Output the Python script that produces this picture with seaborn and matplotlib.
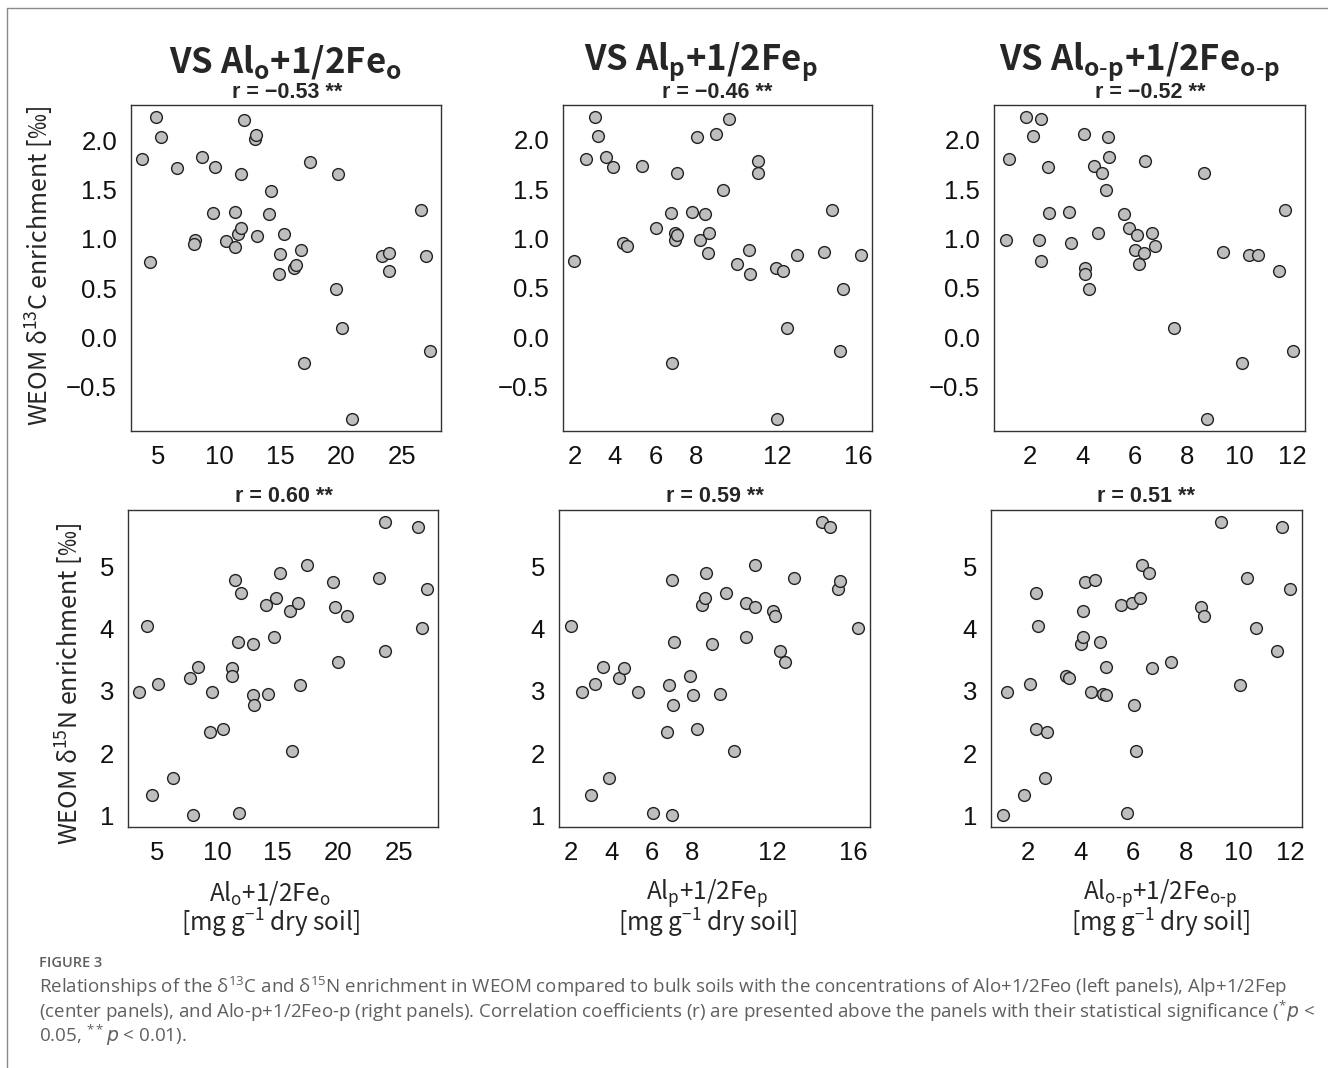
import matplotlib
matplotlib.use('Agg')
import matplotlib.pyplot as plt
from matplotlib.lines import Line2D
import seaborn as sns

# ---- data (40 soils per panel) ----
# top row: WEOM d13C enrichment
alo_top = [3.69, 4.78, 5.19, 4.29, 6.50, 8.55, 9.64, 8.00, 7.90, 9.45, 10.52, 11.26, 11.28, 11.53,
           11.78, 11.78, 11.99, 12.95, 13.03, 13.09, 14.07, 14.21, 14.92, 14.84, 15.27, 16.07, 16.23,
           16.64, 16.89, 17.43, 19.67, 19.51, 20.05, 20.85, 23.33, 23.85, 23.85, 26.50, 26.94, 27.21]
d13c_alo = [1.81, 2.24, 2.04, 0.77, 1.72, 1.83, 1.73, 0.99, 0.95, 1.26, 0.98, 1.27, 0.92, 1.05,
            1.11, 1.66, 2.21, 2.02, 2.06, 1.03, 1.25, 1.49, 0.85, 0.64, 1.05, 0.70, 0.74,
            0.89, -0.26, 1.78, 1.66, 0.49, 0.09, -0.83, 0.83, 0.86, 0.67, 1.29, 0.83, -0.14]

alp_top = [2.00, 2.58, 3.02, 3.17, 3.58, 3.91, 4.38, 4.61, 5.32, 6.03, 6.75, 6.83, 6.98, 6.95,
           7.05, 7.05, 7.82, 8.05, 8.20, 8.43, 8.64, 8.61, 8.97, 9.33, 9.63, 10.00, 10.61,
           10.64, 11.05, 11.05, 11.93, 12.29, 12.01, 12.50, 12.96, 14.34, 14.70, 15.23, 15.11, 16.12]
d13c_alp = [0.77, 1.81, 2.23, 2.04, 1.83, 1.72, 0.95, 0.92, 1.73, 1.11, 1.26, -0.26, 1.05, 0.98,
            1.03, 1.66, 1.27, 2.03, 0.98, 1.25, 1.05, 0.85, 2.06, 1.49, 2.21, 0.74, 0.88,
            0.64, 1.78, 1.66, 0.70, 0.67, -0.83, 0.09, 0.83, 0.86, 1.29, 0.49, -0.14, 0.83]

alop_top = [1.05, 1.19, 1.83, 2.10, 2.40, 2.32, 2.42, 2.69, 2.73, 3.47, 3.57, 4.05, 4.08, 4.10,
            4.24, 4.42, 4.60, 4.74, 4.88, 4.97, 5.02, 5.58, 5.79, 6.08, 6.00, 6.16, 6.34,
            6.39, 6.64, 6.76, 7.49, 8.62, 8.74, 9.38, 10.08, 10.36, 10.72, 11.50, 11.73, 12.06]
d13c_alop = [0.98, 1.81, 2.23, 2.04, 2.21, 0.98, 0.77, 1.72, 1.26, 1.27, 0.95, 2.06, 0.70, 0.64,
             0.49, 1.73, 1.05, 1.66, 1.49, 2.03, 1.83, 1.25, 1.11, 1.03, 0.88, 0.74, 0.85,
             1.78, 1.05, 0.92, 0.09, 1.66, -0.83, 0.86, -0.26, 0.83, 0.83, 0.67, 1.29, -0.14]

# bottom row: WEOM d15N enrichment
alo_bot = [3.57, 4.23, 4.64, 5.11, 6.38, 7.78, 7.97, 8.44, 9.59, 9.37, 10.47, 11.24, 11.24, 11.47,
           11.96, 11.69, 11.82, 12.98, 12.95, 13.03, 14.00, 14.19, 14.90, 14.68, 15.23, 16.06, 16.64,
           16.17, 16.86, 17.43, 19.58, 19.72, 20.02, 20.76, 23.40, 23.84, 23.84, 26.60, 26.93, 27.31]
d15n_alo = [2.98, 4.05, 1.33, 3.11, 1.60, 3.20, 1.00, 3.38, 2.99, 2.34, 2.38, 3.36, 3.24, 4.79,
            4.57, 3.79, 1.03, 3.75, 2.94, 2.77, 4.38, 2.95, 4.49, 3.87, 4.89, 4.29, 4.42,
            2.04, 3.10, 5.03, 4.75, 4.35, 3.47, 4.21, 4.81, 5.72, 3.64, 5.63, 4.01, 4.64]

alp_bot = [1.98, 2.55, 2.98, 3.18, 3.57, 3.87, 4.37, 4.62, 5.30, 6.06, 6.75, 6.87, 7.00, 7.02,
           7.09, 7.07, 7.88, 8.06, 8.26, 8.48, 8.64, 8.69, 9.01, 9.37, 9.70, 10.08, 10.68,
           10.70, 11.13, 11.13, 12.02, 12.09, 12.35, 12.59, 13.05, 14.46, 14.84, 15.22, 15.32, 16.25]
d15n_alp = [4.05, 2.98, 1.33, 3.11, 3.38, 1.60, 3.20, 3.36, 2.99, 1.03, 2.34, 3.10, 1.00, 4.79,
            3.79, 2.77, 3.24, 2.94, 2.38, 4.38, 4.49, 4.89, 3.75, 2.95, 4.57, 2.04, 3.87,
            4.41, 5.03, 4.35, 4.29, 4.21, 3.64, 3.47, 4.81, 5.72, 5.63, 4.64, 4.76, 4.01]

alop_bot = [1.02, 1.18, 1.83, 2.06, 2.31, 2.36, 2.29, 2.70, 2.65, 3.43, 3.56, 4.02, 4.08, 4.07,
            4.17, 4.54, 4.39, 4.72, 4.86, 4.95, 4.98, 5.53, 5.75, 5.95, 6.04, 6.12, 6.27,
            6.32, 6.60, 6.71, 7.42, 8.59, 8.70, 9.35, 10.06, 10.33, 10.66, 11.46, 11.66, 11.99]
d15n_alop = [1.00, 2.98, 1.33, 3.11, 4.57, 4.05, 2.38, 2.34, 1.60, 3.24, 3.20, 3.75, 3.87, 4.29,
             4.75, 4.79, 2.99, 3.79, 2.95, 2.93, 3.38, 4.38, 1.03, 4.41, 2.77, 2.04, 4.49,
             5.03, 4.89, 3.36, 3.47, 4.35, 4.21, 5.72, 3.10, 4.81, 4.01, 3.64, 5.63, 4.64]

r_values = ['\u22120.53', '\u22120.46', '\u22120.52', '0.60', '0.59', '0.51']

xticks_o = [5, 10, 15, 20, 25]
xticks_p = [2, 4, 6, 8, 10, 12, 14, 16]
xlabels_p = ['2', '4', '6', '8', '', '12', '', '16']
xticks_op = [2, 4, 6, 8, 10, 12]
yticks_c = [-0.5, 0.0, 0.5, 1.0, 1.5, 2.0]
yticks_n = [1, 2, 3, 4, 5]

sns.set_style('white')
plt.rcParams['font.family'] = ['Liberation Sans', 'DejaVu Sans']
plt.rcParams['axes.unicode_minus'] = True
plt.rcParams['mathtext.fontset'] = 'custom'
plt.rcParams['mathtext.rm'] = 'Noto Sans CJK JP'
plt.rcParams['mathtext.bf'] = 'Noto Sans CJK JP:bold'
plt.rcParams['mathtext.it'] = 'DejaVu Sans:italic'

W, H = 1328, 1068
fig = plt.figure(figsize=(W / 100, H / 100), dpi=100)
JP = ['Noto Sans CJK JP', 'DejaVu Sans']


def add_ax(l, t, r, b):
    return fig.add_axes([l / W, 1 - b / H, (r - l) / W, (b - t) / H])


def ftext(x, y, s, **kw):
    fig.text(x / W, 1 - y / H, s, **kw)


panels = [
    ((131, 105, 441, 431), alo_top, d13c_alo, xticks_o, None, yticks_c, '%.1f'),
    ((563, 105, 872, 431), alp_top, d13c_alp, xticks_p, xlabels_p, yticks_c, '%.1f'),
    ((994, 105, 1305, 431), alop_top, d13c_alop, xticks_op, None, yticks_c, '%.1f'),
    ((128, 510, 438, 827), alo_bot, d15n_alo, xticks_o, None, yticks_n, '%d'),
    ((559, 510, 870, 827), alp_bot, d15n_alp, xticks_p, xlabels_p, yticks_n, '%d'),
    ((991, 510, 1302, 827), alop_bot, d15n_alop, xticks_op, None, yticks_n, '%d'),
]

for rect, xs, ys, xt, xl, yt, fmt in panels:
    ax = add_ax(*rect)
    sns.scatterplot(x=xs, y=ys, ax=ax, color='#BEBEBE', edgecolor='#222222',
                    linewidth=1.0, s=72, zorder=3)
    ax.margins(0.04)
    ax.set_xticks(xt)
    if xl is not None:
        ax.set_xticklabels(xl)
    ax.set_yticks(yt)
    ax.set_yticklabels([(fmt % v).replace('-', '\u2212') for v in yt])
    ax.tick_params(direction='out', length=7, width=1, color='#555555',
                   labelsize=18.5, pad=3, labelcolor='#111111')
    for sp in ax.spines.values():
        sp.set_color('#333333')
        sp.set_linewidth(1.0)

# column titles
titles = [(285, r'VS Al$_{\mathbf{o}}$+1/2Fe$_{\mathbf{o}}$'),
          (701, r'VS Al$_{\mathbf{p}}$+1/2Fe$_{\mathbf{p}}$'),
          (1139, r'VS Al$_{\mathbf{o}\text{-}\mathbf{p}}$+1/2Fe$_{\mathbf{o}\text{-}\mathbf{p}}$')]
for x, s in titles:
    ftext(x, 62, s, ha='center', va='center', fontsize=25, fontweight='bold', family=JP)

# correlation labels
r_pos = [(287, 93), (717, 93), (1150, 93), (284, 497), (715, 497), (1146, 497)]
for (x, y), r in zip(r_pos, r_values):
    ftext(x, y, 'r = ' + r + ' **', ha='center', va='center', fontsize=15.5, fontweight='bold')

# axis titles
ftext(40, 266, r'WEOM δ$^{\mathregular{13}}$C enrichment [‰]', rotation=90, ha='center',
      va='center', fontsize=18, family=JP)
ftext(70, 684, r'WEOM δ$^{\mathregular{15}}$N enrichment [‰]', rotation=90, ha='center',
      va='center', fontsize=18, family=JP)

xlab = [(270, r'Al$_{\mathregular{o}}$+1/2Fe$_{\mathregular{o}}$'),
        (707, r'Al$_{\mathregular{p}}$+1/2Fe$_{\mathregular{p}}$'),
        (1160, r'Al$_{\mathregular{o}\text{-}\mathregular{p}}$+1/2Fe$_{\mathregular{o}\text{-}\mathregular{p}}$')]
for x, s in xlab:
    ftext(x, 893, s, ha='center', va='center', fontsize=17.5, family=JP)
    ftext(x, 923, r'[mg g$^{\mathregular{-1}}$ dry soil]', ha='center', va='center',
          fontsize=17.5, family=JP)

# caption
cap = '#5f5f5f'
ftext(39, 963, 'FIGURE 3', ha='left', va='center', fontsize=10.5, color=cap, family=['Open Sans'],
      fontweight='semibold')
lines = [
    r'Relationships of the δ$^{\mathregular{13}}$C and δ$^{\mathregular{15}}$N enrichment in WEOM '
    r'compared to bulk soils with the concentrations of Alo+1/2Feo (left panels), Alp+1/2Fep',
    r'(center panels), and Alo-p+1/2Feo-p (right panels). Correlation coefficients (r) are '
    r'presented above the panels with their statistical significance ($^{\mathregular{*}}$$\mathit{p}$ <',
    r'0.05, $^{\mathregular{**}}$$\mathit{p}$ < 0.01).',
]
for i, s in enumerate(lines):
    ftext(39, 987 + 24 * i, s, ha='left', va='center', fontsize=13.5, color=cap,
          family=['Open Sans', 'DejaVu Sans'])

# frame of the figure page
fig.add_artist(Line2D([7 / W, 1], [1 - 8 / H, 1 - 8 / H], color='#8a8a8a', lw=1))
fig.add_artist(Line2D([7 / W, 7 / W], [1 - 8 / H, 0], color='#8a8a8a', lw=1))

fig.savefig('out.png', dpi=100)
